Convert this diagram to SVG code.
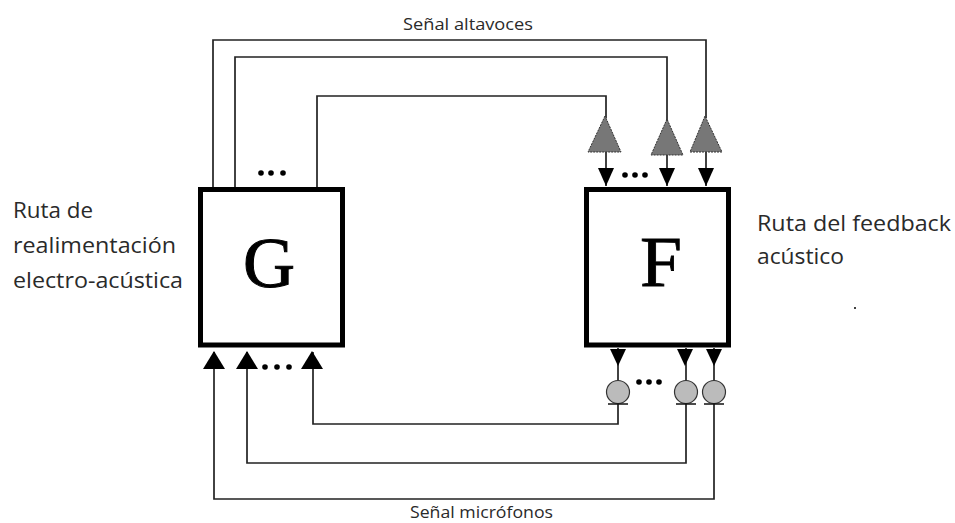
<svg xmlns="http://www.w3.org/2000/svg" width="955" height="523" viewBox="0 0 955 523">
<style>
.w{fill:none;stroke:#222;stroke-width:1.7}
.box{fill:#fff;stroke:#000;stroke-width:5}
.ah{fill:#000}
.amp{fill:#777;stroke:#333;stroke-width:1;stroke-dasharray:2 1}
.mic{fill:#bbb;stroke:#333;stroke-width:1.2}
.bar{stroke:#111;stroke-width:1.5;fill:none}
.lbl{font-family:"Open Sans","Noto Sans",sans-serif;fill:#2a2a2a}
.big{font-family:"Liberation Serif",serif;font-size:72px;fill:#000;text-anchor:middle}
</style>
<rect width="955" height="523" fill="#fff"/>
<g id="connectors">
<path class="w" d="M213 188V40H706V118"/>
<path class="w" d="M235 188V57H667V122"/>
<path class="w" d="M317 188V96H606V118"/>
<path class="w" d="M606 150V186"/>
<path class="w" d="M667 155V186"/>
<path class="w" d="M706 150V186"/>
<path class="w" d="M618 348V382"/>
<path class="w" d="M686 348V382"/>
<path class="w" d="M714 348V382"/>
<path class="w" d="M618 404V424H313V352"/>
<path class="w" d="M686 404V463H247V352"/>
<path class="w" d="M714 404V499H214V352"/>
<path class="ah" d="M598 168H614L606 186Z"/>
<path class="ah" d="M659 168H675L667 186Z"/>
<path class="ah" d="M698 168H714L706 186Z"/>
<path class="ah" d="M610 349H626L618 366Z"/>
<path class="ah" d="M677 349H693L685 366Z"/>
<path class="ah" d="M706 349H722L714 366Z"/>
<path class="ah" d="M203 369H225L214 351Z"/>
<path class="ah" d="M236 369H258L247 351Z"/>
<path class="ah" d="M301 369H323L312 351Z"/>
</g>
<g id="node-g"><rect class="box" x="200.500" y="189.500" width="142" height="155.500"/><text class="big" x="269" y="287" stroke="#000" stroke-width="1">G</text></g>
<g id="node-f"><rect class="box" x="586.500" y="189.500" width="142" height="155.500"/><text class="big" x="661" y="286" stroke="#000" stroke-width="0.800" textLength="42" lengthAdjust="spacingAndGlyphs">F</text></g>
<g id="amp-1"><path class="amp" d="M605 116L588 152H621Z"/></g>
<g id="amp-2"><path class="amp" d="M667 119L651 155H683Z"/></g>
<g id="amp-3"><path class="amp" d="M705 116L690 152H722Z"/></g>
<g id="mic-1"><circle class="mic" cx="618" cy="392" r="11.500"/><path class="bar" d="M608 404H628"/></g>
<g id="mic-2"><circle class="mic" cx="686" cy="392" r="11.500"/><path class="bar" d="M676 404H696"/></g>
<g id="mic-3"><circle class="mic" cx="714" cy="392" r="11.500"/><path class="bar" d="M704 404H724"/></g>
<g id="dots" fill="#000">
<circle cx="261" cy="173" r="2.800"/><circle cx="271" cy="173" r="2.800"/><circle cx="283" cy="173" r="2.800"/>
<circle cx="265" cy="367" r="2.800"/><circle cx="277" cy="367" r="2.800"/><circle cx="289" cy="367" r="2.800"/>
<circle cx="625" cy="175" r="2.800"/><circle cx="635" cy="175" r="2.800"/><circle cx="645" cy="175" r="2.800"/>
<circle cx="639" cy="382" r="2.800"/><circle cx="649" cy="382" r="2.800"/><circle cx="659" cy="382" r="2.800"/>
<circle cx="855" cy="308" r="1"/>
</g>
<g id="labels">
<text class="lbl" x="403" y="30" font-size="17" textLength="130" lengthAdjust="spacingAndGlyphs">Señal altavoces</text>
<text class="lbl" x="410" y="518" font-size="17" textLength="143" lengthAdjust="spacingAndGlyphs">Señal micrófonos</text>
<text class="lbl" x="13" y="218" font-size="22.500" textLength="80" lengthAdjust="spacingAndGlyphs">Ruta de</text>
<text class="lbl" x="13" y="253" font-size="22.500" textLength="163" lengthAdjust="spacingAndGlyphs">realimentación</text>
<text class="lbl" x="13" y="288" font-size="22.500" textLength="170" lengthAdjust="spacingAndGlyphs">electro-acústica</text>
<text class="lbl" x="757" y="231" font-size="22.500" textLength="194" lengthAdjust="spacingAndGlyphs">Ruta del feedback</text>
<text class="lbl" x="757" y="264" font-size="22.500" textLength="87" lengthAdjust="spacingAndGlyphs">acústico</text>
</g>
</svg>
